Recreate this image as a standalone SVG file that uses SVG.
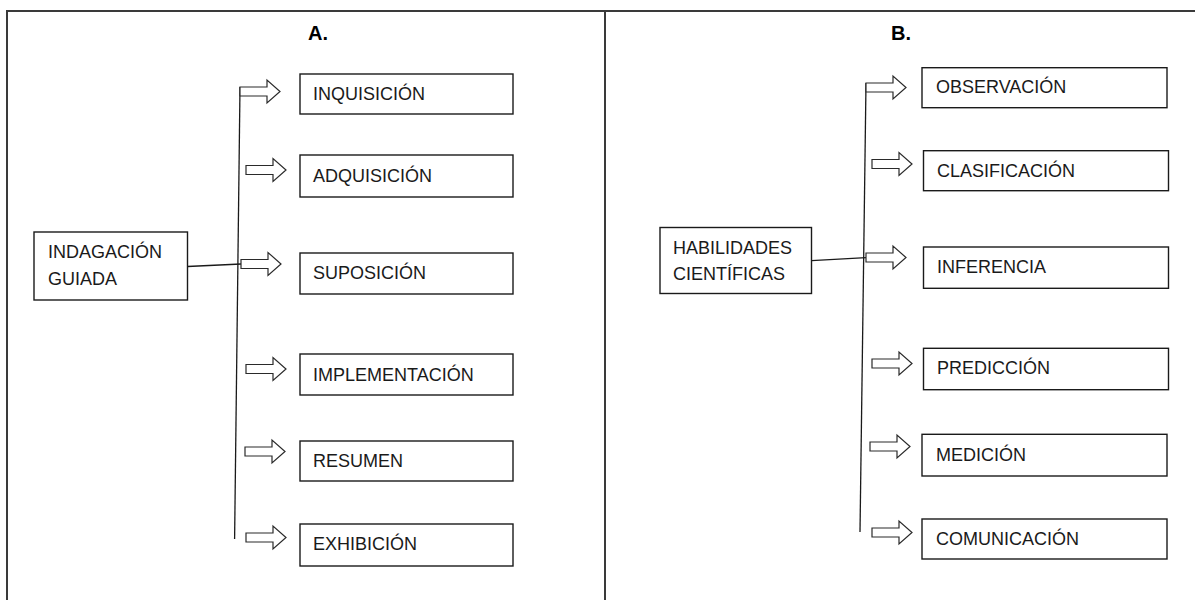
<svg xmlns="http://www.w3.org/2000/svg" xmlns:xlink="http://www.w3.org/1999/xlink" width="1195" height="600" viewBox="0 0 1195 600">
<style>
.frame{fill:none;stroke:#3a3a3a;stroke-width:2}
.box{fill:#fff;stroke:#1a1a1a;stroke-width:1.4}
.lbl{font-family:"Liberation Sans",Arial,sans-serif;font-size:18px;fill:#1a1a1a}
.ttl{font-family:"Liberation Sans",Arial,sans-serif;font-size:20px;font-weight:bold;fill:#000}
.ln{fill:none;stroke:#1a1a1a;stroke-width:1.3}
.arr{fill:#fff;stroke:#2a2a2a;stroke-width:1.2;stroke-linejoin:miter}
</style>
<defs>
<path id="blk" class="arr" d="M0,-4.5 H27 V-11.5 L40,0 L27,11.5 V4.5 H0 Z"/>
</defs>
<rect width="1195" height="600" fill="#fff"/>
<g id="frame">
<path class="frame" d="M7,600 V11 H1195 M605,11 V600"/>
<text class="ttl" x="308" y="40">A.</text>
<text class="ttl" x="891" y="40">B.</text>
</g>
<g id="connectors">
<line class="ln" x1="240" y1="87" x2="234.6" y2="539"/>
<line class="ln" x1="187.5" y1="266.5" x2="241" y2="264"/>
<line class="ln" x1="866" y1="83" x2="860" y2="532"/>
<line class="ln" x1="811.5" y1="260.7" x2="866" y2="257.7"/>
<use xlink:href="#blk" href="#blk" transform="translate(240,91.5)"/>
<use xlink:href="#blk" href="#blk" transform="translate(246,170)"/>
<use xlink:href="#blk" href="#blk" transform="translate(241,264)"/>
<use xlink:href="#blk" href="#blk" transform="translate(246,369)"/>
<use xlink:href="#blk" href="#blk" transform="translate(245,451.5)"/>
<use xlink:href="#blk" href="#blk" transform="translate(246,537.5)"/>
<use xlink:href="#blk" href="#blk" transform="translate(866,87.5)"/>
<use xlink:href="#blk" href="#blk" transform="translate(872,164)"/>
<use xlink:href="#blk" href="#blk" transform="translate(866,257.5)"/>
<use xlink:href="#blk" href="#blk" transform="translate(872,363.5)"/>
<use xlink:href="#blk" href="#blk" transform="translate(870,446.5)"/>
<use xlink:href="#blk" href="#blk" transform="translate(872,532.5)"/>
</g>
<g id="indagacion">
<rect class="box" x="34" y="232" width="153.5" height="68"/>
<text class="lbl" x="48" y="258">INDAGACIÓN</text>
<text class="lbl" x="48" y="284.5">GUIADA</text>
</g>
<g id="inquisicion"><rect class="box" x="300" y="74" width="213" height="40"/><text class="lbl" x="313" y="100">INQUISICIÓN</text></g>
<g id="adquisicion"><rect class="box" x="300" y="155" width="213" height="42"/><text class="lbl" x="313" y="181.5">ADQUISICIÓN</text></g>
<g id="suposicion"><rect class="box" x="300" y="253" width="213" height="41"/><text class="lbl" x="313" y="279">SUPOSICIÓN</text></g>
<g id="implementacion"><rect class="box" x="300" y="354" width="213" height="41"/><text class="lbl" x="313" y="381">IMPLEMENTACIÓN</text></g>
<g id="resumen"><rect class="box" x="300" y="441" width="213" height="40"/><text class="lbl" x="313" y="466.5">RESUMEN</text></g>
<g id="exhibicion"><rect class="box" x="300" y="524" width="213" height="42"/><text class="lbl" x="313" y="549.5">EXHIBICIÓN</text></g>
<g id="habilidades">
<rect class="box" x="660" y="227.5" width="151.5" height="66"/>
<text class="lbl" x="673" y="253.5">HABILIDADES</text>
<text class="lbl" x="673" y="279.5">CIENTÍFICAS</text>
</g>
<g id="observacion"><rect class="box" x="922" y="67.7" width="245" height="40"/><text class="lbl" x="936" y="93.3">OBSERVACIÓN</text></g>
<g id="clasificacion"><rect class="box" x="923.5" y="150.7" width="245" height="40"/><text class="lbl" x="937" y="176.7">CLASIFICACIÓN</text></g>
<g id="inferencia"><rect class="box" x="923.5" y="247" width="245" height="41.3"/><text class="lbl" x="937" y="272.7">INFERENCIA</text></g>
<g id="prediccion"><rect class="box" x="923.5" y="348.3" width="245" height="41.4"/><text class="lbl" x="937" y="374">PREDICCIÓN</text></g>
<g id="medicion"><rect class="box" x="922" y="434.3" width="245" height="41.7"/><text class="lbl" x="936" y="460.7">MEDICIÓN</text></g>
<g id="comunicacion"><rect class="box" x="922" y="519" width="245" height="40"/><text class="lbl" x="936" y="545">COMUNICACIÓN</text></g>
</svg>
